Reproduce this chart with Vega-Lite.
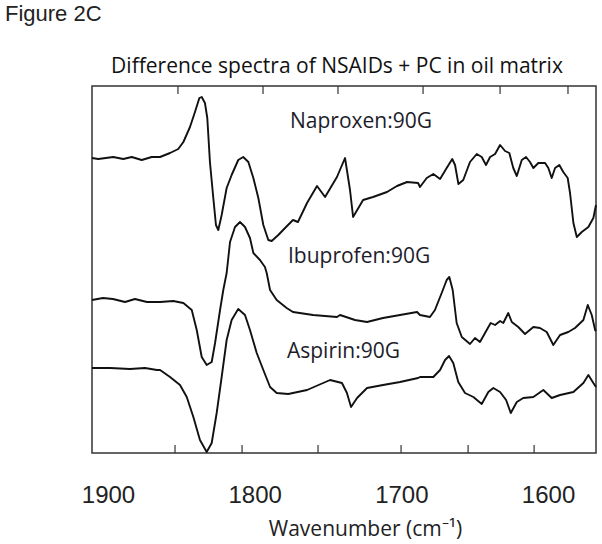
{
  "$schema": "https://vega.github.io/schema/vega-lite/v6.json",
  "width": 504,
  "height": 367,
  "autosize": {"type": "none"},
  "padding": {"left": 92, "top": 86, "right": 6, "bottom": 91},
  "background": "white",
  "config": {"view": {"stroke": "#333333", "strokeWidth": 1.5}},
  "title": {"text": "Figure 2C", "anchor": "start", "frame": "group", "dx": -87, "font": "Liberation Sans", "fontSize": 22, "fontWeight": "normal", "color": "#222222", "baseline": "alphabetic", "offset": 12},
  "datasets": {
    "spectra": [
      {"s":"Naproxen","x":1910.9,"y":295},{"s":"Naproxen","x":1906.6,"y":294},{"s":"Naproxen","x":1896.4,"y":296},{"s":"Naproxen","x":1889.6,"y":294},{"s":"Naproxen","x":1883.8,"y":296},{"s":"Naproxen","x":1877.0,"y":293},{"s":"Naproxen","x":1870.2,"y":296},
      {"s":"Naproxen","x":1864.5,"y":296},{"s":"Naproxen","x":1857.7,"y":300},{"s":"Naproxen","x":1852.1,"y":304},{"s":"Naproxen","x":1848.6,"y":311},{"s":"Naproxen","x":1844.1,"y":326},{"s":"Naproxen","x":1840.7,"y":341},{"s":"Naproxen","x":1837.7,"y":355},{"s":"Naproxen","x":1836.1,"y":356},{"s":"Naproxen","x":1833.9,"y":350},{"s":"Naproxen","x":1832.3,"y":335},{"s":"Naproxen","x":1830.5,"y":291},{"s":"Naproxen","x":1828.2,"y":255},{"s":"Naproxen","x":1826.4,"y":228},{"s":"Naproxen","x":1824.8,"y":223},{"s":"Naproxen","x":1822.5,"y":238},{"s":"Naproxen","x":1819.1,"y":265},{"s":"Naproxen","x":1815.7,"y":278},{"s":"Naproxen","x":1811.2,"y":293},{"s":"Naproxen","x":1807.8,"y":296},{"s":"Naproxen","x":1804.3,"y":291},{"s":"Naproxen","x":1800.9,"y":275},{"s":"Naproxen","x":1797.5,"y":255},{"s":"Naproxen","x":1794.1,"y":228},{"s":"Naproxen","x":1790.7,"y":213},{"s":"Naproxen","x":1788.4,"y":212},{"s":"Naproxen","x":1783.9,"y":218},{"s":"Naproxen","x":1779.3,"y":225},{"s":"Naproxen","x":1775.9,"y":230},
      {"s":"Naproxen","x":1773.9,"y":233},{"s":"Naproxen","x":1770.5,"y":231},{"s":"Naproxen","x":1764.3,"y":250},{"s":"Naproxen","x":1757.5,"y":267},{"s":"Naproxen","x":1752.0,"y":256},{"s":"Naproxen","x":1743.9,"y":276},{"s":"Naproxen","x":1738.4,"y":295},{"s":"Naproxen","x":1735.0,"y":263},{"s":"Naproxen","x":1732.9,"y":236},{"s":"Naproxen","x":1726.1,"y":253},{"s":"Naproxen","x":1719.3,"y":256},{"s":"Naproxen","x":1709.8,"y":261},{"s":"Naproxen","x":1703.0,"y":267},{"s":"Naproxen","x":1696.1,"y":271},{"s":"Naproxen","x":1688.6,"y":270},{"s":"Naproxen","x":1687.3,"y":266},
      {"s":"Naproxen","x":1682.7,"y":275},{"s":"Naproxen","x":1678.2,"y":279},{"s":"Naproxen","x":1673.6,"y":274},{"s":"Naproxen","x":1669.1,"y":285},{"s":"Naproxen","x":1665.3,"y":294},{"s":"Naproxen","x":1663.4,"y":288},{"s":"Naproxen","x":1661.1,"y":269},{"s":"Naproxen","x":1657.8,"y":273},{"s":"Naproxen","x":1653.2,"y":291},{"s":"Naproxen","x":1648.6,"y":299},{"s":"Naproxen","x":1645.2,"y":296},{"s":"Naproxen","x":1642.3,"y":288},{"s":"Naproxen","x":1639.5,"y":296},{"s":"Naproxen","x":1636.1,"y":299},{"s":"Naproxen","x":1632.7,"y":308},{"s":"Naproxen","x":1629.3,"y":302},{"s":"Naproxen","x":1626.4,"y":300},{"s":"Naproxen","x":1623.7,"y":285},{"s":"Naproxen","x":1621.3,"y":277},{"s":"Naproxen","x":1617.9,"y":293},{"s":"Naproxen","x":1615.0,"y":296},{"s":"Naproxen","x":1612.3,"y":291},{"s":"Naproxen","x":1610.0,"y":285},{"s":"Naproxen","x":1606.6,"y":290},{"s":"Naproxen","x":1602.0,"y":290},{"s":"Naproxen","x":1599.8,"y":285},{"s":"Naproxen","x":1597.5,"y":275},{"s":"Naproxen","x":1595.2,"y":285},{"s":"Naproxen","x":1592.3,"y":288},{"s":"Naproxen","x":1589.6,"y":281},{"s":"Naproxen","x":1586.6,"y":275},{"s":"Naproxen","x":1585.0,"y":260},{"s":"Naproxen","x":1582.7,"y":230},{"s":"Naproxen","x":1580.4,"y":216},{"s":"Naproxen","x":1577.0,"y":221},{"s":"Naproxen","x":1572.5,"y":226},{"s":"Naproxen","x":1569.1,"y":235},{"s":"Naproxen","x":1567.3,"y":248},
      {"s":"Ibuprofen","x":1910.9,"y":153},{"s":"Ibuprofen","x":1903.4,"y":155},{"s":"Ibuprofen","x":1896.6,"y":154},{"s":"Ibuprofen","x":1888.4,"y":151},{"s":"Ibuprofen","x":1881.6,"y":154},{"s":"Ibuprofen","x":1873.4,"y":151},
      {"s":"Ibuprofen","x":1864.5,"y":151},{"s":"Ibuprofen","x":1855.5,"y":152},{"s":"Ibuprofen","x":1848.6,"y":150},{"s":"Ibuprofen","x":1842.9,"y":143},{"s":"Ibuprofen","x":1839.5,"y":123},{"s":"Ibuprofen","x":1836.1,"y":96},{"s":"Ibuprofen","x":1832.7,"y":88},{"s":"Ibuprofen","x":1829.3,"y":91},{"s":"Ibuprofen","x":1827.0,"y":110},{"s":"Ibuprofen","x":1823.6,"y":143},{"s":"Ibuprofen","x":1821.4,"y":163},{"s":"Ibuprofen","x":1819.1,"y":180},{"s":"Ibuprofen","x":1816.8,"y":211},{"s":"Ibuprofen","x":1813.4,"y":226},{"s":"Ibuprofen","x":1810.0,"y":231},{"s":"Ibuprofen","x":1806.6,"y":226},{"s":"Ibuprofen","x":1803.2,"y":215},{"s":"Ibuprofen","x":1800.9,"y":200},{"s":"Ibuprofen","x":1796.4,"y":193},{"s":"Ibuprofen","x":1793.0,"y":186},{"s":"Ibuprofen","x":1791.8,"y":180},{"s":"Ibuprofen","x":1789.5,"y":163},{"s":"Ibuprofen","x":1785.0,"y":153},{"s":"Ibuprofen","x":1778.2,"y":145},
      {"s":"Ibuprofen","x":1773.9,"y":141},{"s":"Ibuprofen","x":1760.2,"y":138},{"s":"Ibuprofen","x":1743.9,"y":136},{"s":"Ibuprofen","x":1741.8,"y":138},{"s":"Ibuprofen","x":1731.6,"y":133},{"s":"Ibuprofen","x":1723.4,"y":131},{"s":"Ibuprofen","x":1712.5,"y":135},{"s":"Ibuprofen","x":1700.9,"y":138},{"s":"Ibuprofen","x":1689.3,"y":141},
      {"s":"Ibuprofen","x":1687.3,"y":138},{"s":"Ibuprofen","x":1680.5,"y":136},{"s":"Ibuprofen","x":1677.1,"y":143},{"s":"Ibuprofen","x":1672.5,"y":160},{"s":"Ibuprofen","x":1669.1,"y":173},{"s":"Ibuprofen","x":1667.3,"y":176},{"s":"Ibuprofen","x":1665.0,"y":163},{"s":"Ibuprofen","x":1662.3,"y":130},{"s":"Ibuprofen","x":1658.8,"y":116},{"s":"Ibuprofen","x":1653.2,"y":109},{"s":"Ibuprofen","x":1649.8,"y":115},{"s":"Ibuprofen","x":1646.4,"y":111},{"s":"Ibuprofen","x":1641.8,"y":123},{"s":"Ibuprofen","x":1639.1,"y":130},{"s":"Ibuprofen","x":1636.1,"y":128},{"s":"Ibuprofen","x":1632.7,"y":132},{"s":"Ibuprofen","x":1630.5,"y":130},{"s":"Ibuprofen","x":1627.1,"y":140},{"s":"Ibuprofen","x":1624.7,"y":131},{"s":"Ibuprofen","x":1620.3,"y":126},{"s":"Ibuprofen","x":1615.7,"y":119},{"s":"Ibuprofen","x":1610.0,"y":126},{"s":"Ibuprofen","x":1605.5,"y":125},{"s":"Ibuprofen","x":1600.9,"y":121},{"s":"Ibuprofen","x":1596.4,"y":108},{"s":"Ibuprofen","x":1591.8,"y":118},{"s":"Ibuprofen","x":1586.2,"y":121},{"s":"Ibuprofen","x":1581.6,"y":125},{"s":"Ibuprofen","x":1575.9,"y":133},{"s":"Ibuprofen","x":1572.9,"y":148},{"s":"Ibuprofen","x":1570.2,"y":138},{"s":"Ibuprofen","x":1567.9,"y":123},{"s":"Ibuprofen","x":1567.3,"y":122},
      {"s":"Aspirin","x":1910.9,"y":85},{"s":"Aspirin","x":1898.6,"y":85},{"s":"Aspirin","x":1885.0,"y":84},{"s":"Aspirin","x":1874.8,"y":85},{"s":"Aspirin","x":1866.6,"y":83},
      {"s":"Aspirin","x":1864.5,"y":83},{"s":"Aspirin","x":1857.7,"y":76},{"s":"Aspirin","x":1850.9,"y":68},{"s":"Aspirin","x":1846.3,"y":56},{"s":"Aspirin","x":1841.8,"y":36},{"s":"Aspirin","x":1837.3,"y":13},{"s":"Aspirin","x":1832.7,"y":1},{"s":"Aspirin","x":1829.3,"y":10},{"s":"Aspirin","x":1825.9,"y":40},{"s":"Aspirin","x":1822.5,"y":76},{"s":"Aspirin","x":1819.1,"y":113},{"s":"Aspirin","x":1815.7,"y":133},{"s":"Aspirin","x":1811.2,"y":144},{"s":"Aspirin","x":1806.6,"y":138},{"s":"Aspirin","x":1803.2,"y":123},{"s":"Aspirin","x":1798.6,"y":100},{"s":"Aspirin","x":1794.1,"y":83},{"s":"Aspirin","x":1789.5,"y":66},{"s":"Aspirin","x":1785.0,"y":60},{"s":"Aspirin","x":1777.1,"y":59},
      {"s":"Aspirin","x":1764.3,"y":63},{"s":"Aspirin","x":1748.6,"y":73},{"s":"Aspirin","x":1740.5,"y":70},{"s":"Aspirin","x":1737.1,"y":60},{"s":"Aspirin","x":1734.3,"y":46},{"s":"Aspirin","x":1730.2,"y":55},{"s":"Aspirin","x":1723.4,"y":65},{"s":"Aspirin","x":1712.5,"y":68},{"s":"Aspirin","x":1700.9,"y":71},{"s":"Aspirin","x":1688.6,"y":75},
      {"s":"Aspirin","x":1687.3,"y":76},{"s":"Aspirin","x":1678.2,"y":76},{"s":"Aspirin","x":1673.6,"y":83},{"s":"Aspirin","x":1670.2,"y":93},{"s":"Aspirin","x":1667.5,"y":97},{"s":"Aspirin","x":1664.6,"y":90},{"s":"Aspirin","x":1661.2,"y":71},{"s":"Aspirin","x":1656.6,"y":60},{"s":"Aspirin","x":1650.9,"y":56},{"s":"Aspirin","x":1645.2,"y":49},{"s":"Aspirin","x":1640.7,"y":61},{"s":"Aspirin","x":1637.3,"y":65},{"s":"Aspirin","x":1632.7,"y":61},{"s":"Aspirin","x":1628.6,"y":53},{"s":"Aspirin","x":1625.4,"y":40},{"s":"Aspirin","x":1621.3,"y":51},{"s":"Aspirin","x":1616.9,"y":55},{"s":"Aspirin","x":1610.0,"y":56},{"s":"Aspirin","x":1603.2,"y":63},{"s":"Aspirin","x":1597.5,"y":55},{"s":"Aspirin","x":1591.8,"y":58},{"s":"Aspirin","x":1582.7,"y":61},{"s":"Aspirin","x":1575.9,"y":70},{"s":"Aspirin","x":1572.5,"y":78},{"s":"Aspirin","x":1569.1,"y":70},{"s":"Aspirin","x":1567.3,"y":66}
    ],
    "topTicks": [{"t":1852.3},{"t":1794.3},{"t":1743.2},{"t":1685.2},{"t":1632.7},{"t":1586.4}],
    "bottomTicks": [{"t":1854.3},{"t":1808.6},{"t":1756.8},{"t":1700.2},{"t":1654.5},{"t":1609.5}],
    "labels": [
      {"label":"Naproxen:90G","x":1775.9,"y":325},
      {"label":"Ibuprofen:90G","x":1777.3,"y":190},
      {"label":"Aspirin:90G","x":1778.0,"y":95}
    ]
  },
  "layer": [
    {
      "data": {"name": "spectra"},
      "mark": {"type": "line", "color": "#111111", "strokeWidth": 1.9, "interpolate": "linear", "strokeJoin": "round"},
      "encoding": {
        "x": {"field": "x", "type": "quantitative", "scale": {"domain": [1567.3, 1910.9], "reverse": true, "nice": false, "zero": false},
          "axis": {"orient": "bottom", "values": [1900, 1800, 1700, 1600], "format": "d", "ticks": false, "tickSize": 0, "domain": false, "grid": false,
            "labelFont": "Liberation Sans", "labelFontSize": 24, "labelColor": "#222222", "labelBaseline": "alphabetic", "labelPadding": 49,
            "title": "Wavenumber (cm⁻¹)", "titleFont": "Open Sans", "titleFontSize": 21, "titleFontWeight": "normal", "titleColor": "#222222",
            "titleBaseline": "alphabetic", "titleX": 273, "titleY": 82}},
        "y": {"field": "y", "type": "quantitative", "scale": {"domain": [0, 367], "nice": false, "zero": false}, "axis": null},
        "detail": {"field": "s"}
      }
    },
    {
      "data": {"name": "topTicks"},
      "mark": {"type": "rule", "color": "#333333", "strokeWidth": 1.2},
      "encoding": {
        "x": {"field": "t", "type": "quantitative", "scale": {"domain": [1567.3, 1910.9], "reverse": true, "nice": false, "zero": false},
          "axis": {"orient": "top", "labels": false, "ticks": false, "tickSize": 0, "domain": false, "grid": false,
            "title": "Difference spectra of NSAIDs + PC in oil matrix", "titleFont": "Open Sans", "titleFontSize": 21, "titleFontWeight": "normal", "titleColor": "#111111",
            "titleBaseline": "alphabetic", "titleX": 244.5, "titleY": -14}},
        "y": {"datum": 359, "type": "quantitative", "scale": {"domain": [0, 367], "nice": false, "zero": false}},
        "y2": {"datum": 367}
      }
    },
    {
      "data": {"name": "bottomTicks"},
      "mark": {"type": "rule", "color": "#333333", "strokeWidth": 1.2},
      "encoding": {
        "x": {"field": "t", "type": "quantitative", "scale": {"domain": [1567.3, 1910.9], "reverse": true, "nice": false, "zero": false}, "axis": null},
        "y": {"datum": 0, "type": "quantitative", "scale": {"domain": [0, 367], "nice": false, "zero": false}},
        "y2": {"datum": 8}
      }
    },
    {
      "data": {"name": "labels"},
      "mark": {"type": "text", "align": "left", "baseline": "alphabetic", "font": "Open Sans", "fontSize": 21, "color": "#1c1c2a"},
      "encoding": {
        "x": {"field": "x", "type": "quantitative", "scale": {"domain": [1567.3, 1910.9], "reverse": true, "nice": false, "zero": false}, "axis": null},
        "y": {"field": "y", "type": "quantitative", "scale": {"domain": [0, 367], "nice": false, "zero": false}},
        "text": {"field": "label"}
      }
    }
  ],
  "resolve": {"axis": {"x": "independent"}}
}
